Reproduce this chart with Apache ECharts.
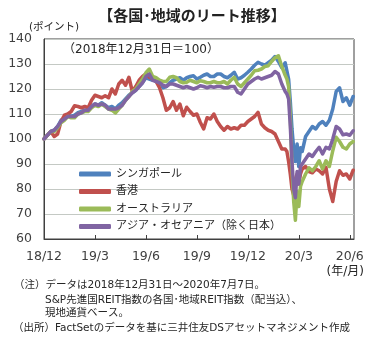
<!DOCTYPE html>
<html><head><meta charset="utf-8">
<script src="https://cdn.jsdelivr.net/npm/echarts@6/dist/echarts.min.js"></script>
<style>html,body{margin:0;padding:0;background:#fff}#c{width:373px;height:343px}</style>
</head><body><div id="c"></div>
<script>
// x positions: months elapsed since 2018-12-31 (finer sampling during the March 2020 crash)
const months = [
0,0.2,0.4,0.6,0.8,1.0,1.2,1.4,1.6,1.8,
2.0,2.2,2.4,2.6,2.8,3.0,3.2,3.4,3.6,3.8,
4.0,4.2,4.4,4.6,4.8,5.0,5.2,5.4,5.6,5.8,
6.0,6.2,6.4,6.6,6.8,7.0,7.2,7.4,7.6,7.8,
8.0,8.2,8.4,8.6,8.8,9.0,9.2,9.4,9.6,9.8,
10.0,10.2,10.4,10.6,10.8,11.0,11.2,11.4,11.6,11.8,
12.0,12.2,12.4,12.6,12.8,13.0,13.2,13.4,13.6,13.8,
14.0,
14.2,14.3,14.4,14.5,14.6,14.7,14.8,14.9,15.0,15.1,15.2,
15.4,15.6,15.8,16.0,16.2,16.4,16.6,16.8,17.0,17.2,17.4,17.6,17.8,18.0,18.2];

const singapore = [
100,101.5,103,103.5,105,107.5,108,109.5,109,109.5,
110.5,111,111.5,111.5,113,114,113.5,114.5,113.5,112.5,
113,112,113.5,114.5,116,117.5,118.5,119.5,121,122.5,
124.5,124,123.5,124,123,120.5,121,122.5,123.5,124,
124.5,123.5,124.5,125,125.3,124,124.7,125.5,126,125,
125,126,126,125,124.5,125.5,126.7,124,124.5,125.5,
126.7,128,129.5,130.7,130,129.5,130.5,131.5,133,131,
128.5,
130.5,130,124,115,104,96,91,98,89,96.5,95,
101,103,105,104,106,107,105.5,107.5,112,119,120.5,115,116.5,113.5,117];

const hongkong = [
100,101.5,103,101,102,107,109.5,110,111,113.3,
113,112.5,113,112.5,115.5,117.5,117,116.5,117.3,116.5,
120,118,122,123.5,121.5,124.7,119,121,123.5,125,
126,124.7,124,123,120.5,116.5,111.5,112.5,115,111.5,
114,109.3,112.7,111,109.5,110,106.7,104,108.5,108,
110,107,105,103.5,105,104,104.5,104,105.5,105.5,
107,108,109,110.7,106,104.5,103.5,103,102,99,
96,
96,95,91,86,80,77.5,84,86,82,86,88,
89,87,86.5,88,87.3,86,88.7,80,75,83,87.3,85.5,86,84,87.5];

const australia = [
100,101.5,103,103,104.5,106.5,107.5,109,108.5,108.5,
110,110.5,111,111,112.5,113.5,113,114,113,112,
111.5,110.4,112,113.5,115.5,117,119,120,122,124,
126.5,128,125,124.5,123.5,123,123,124.7,125,124.5,
123,122.5,122.7,123.5,123,122.5,123.3,123,122.5,122.5,
123,122.5,122.5,123,122,123.5,124.7,122,121,122.5,
124,125.5,127.3,127.5,128,129,129.3,131,132.5,133.3,
129,
125.5,124,121,109,88,75,67.5,79,73,81,83,
86,88.5,87.3,89,91.3,88,91.3,89,95.3,100.7,99,96.7,96,98,99];

const asiaOceania = [
100,101.5,103,103.5,105,107,108,109,109,109,
110,110.5,111.5,111.5,113,114,113.5,114,113.5,112,
112,112,112.5,113.5,115.5,117,118.5,119.5,121,122.5,
125,126,123.5,123,122.5,121.5,121,122,122,121.5,
121,120.5,121,120.5,120,120.5,121.3,121,120.5,121,
120.7,121,121,120.5,120.5,121,121,118.7,118,120,
122,123,124,124.7,124,124.5,125,125.5,127,126,
122,
119,118,116,105,91,80,76.5,87,82,89,90,
92,94,93,95,96.7,94,96.7,96,100,105,104,101.7,102,101.5,103.3];

const seriesNames = ['シンガポール','香港','オーストラリア','アジア・オセアニア（除く日本）'];
const seriesValues = [singapore, hongkong, australia, asiaOceania];
const seriesColors = ['#4F81BD','#C0504D','#9BBB59','#8064A2'];
const xTickLabels = ['18/12','19/3','19/6','19/9','19/12','20/3','20/6'];

const FONT = "'DejaVu Sans','Noto Sans CJK JP',sans-serif";
const TXT = '#262626';

const chart = echarts.init(document.getElementById('c'), null, {renderer:'canvas'});

const series = seriesNames.map((name, k) => ({
  name, type:'line', showSymbol:false, symbol:'none', animation:false,
  data: months.map((m, i) => [m, seriesValues[k][i]]),
  lineStyle:{width:3.5, color:seriesColors[k], cap:'round', join:'round'},
  itemStyle:{color:seriesColors[k]}
}));

const notes = [
  {text:'（注）データは2018年12月31日～2020年7月7日。', x:14, y:285},
  {text:'S&P先進国REIT指数の各国･地域REIT指数（配当込）、', x:45, y:300},
  {text:'現地通貨ベース。', x:45, y:313},
  {text:'（出所）FactSetのデータを基に三井住友DSアセットマネジメント作成', x:13, y:328}
];

chart.setOption({
  animation:false,
  backgroundColor:'#fff',
  grid:{left:44, right:19, top:39, bottom:104, show:true, borderColor:'#404040', borderWidth:1},
  xAxis:{
    type:'value', min:0, max:18.25, interval:3,
    axisLine:{show:true, onZero:false, lineStyle:{color:'#404040', width:1}},
    axisTick:{show:true, inside:true, length:4, lineStyle:{color:'#404040'}},
    splitLine:{show:false},
    axisLabel:{
      margin:11, color:'#404040', fontFamily:FONT, fontSize:12.5, showMaxLabel:false,
      formatter:v => { const k = Math.round(v/3); return Math.abs(v-3*k) < 1e-6 ? (xTickLabels[k] || '') : ''; }
    }
  },
  yAxis:{
    type:'value', min:60, max:140, interval:10,
    axisLine:{show:true, lineStyle:{color:'#404040', width:1}},
    axisTick:{show:false},
    splitLine:{show:true, lineStyle:{color:'#c4c9c4', width:1}},
    axisLabel:{margin:12, color:'#404040', fontFamily:FONT, fontSize:12.5}
  },
  legend:{
    show:true, orient:'vertical', left:74, top:162,
    itemWidth:32, itemHeight:5, itemGap:3.5, icon:'roundRect',
    textStyle:{fontFamily:FONT, fontSize:11, color:TXT, lineHeight:14},
    data:seriesNames
  },
  series,
  graphic:[
    {type:'text', x:192, y:15.5, style:{text:'【各国･地域のリート推移】', fill:'#222', font:"bold 15px 'Noto Sans CJK JP',sans-serif", textAlign:'center', textVerticalAlign:'middle'}},
    {type:'text', x:29, y:27, style:{text:'(ポイント)', fill:TXT, font:"10.5px "+FONT, textAlign:'left', textVerticalAlign:'middle'}},
    {type:'text', x:63, y:50, style:{text:'（2018年12月31日＝100）', fill:TXT, font:"12px "+FONT, textAlign:'left', textVerticalAlign:'middle'}},
    {type:'text', x:364, y:272, style:{text:'(年/月)', fill:TXT, font:"12px "+FONT, textAlign:'right', textVerticalAlign:'middle'}},
    ...notes.map(n => ({type:'text', x:n.x, y:n.y, style:{text:n.text, fill:TXT, font:"10.5px "+FONT, textAlign:'left', textVerticalAlign:'middle'}}))
  ]
});
</script></body></html>
